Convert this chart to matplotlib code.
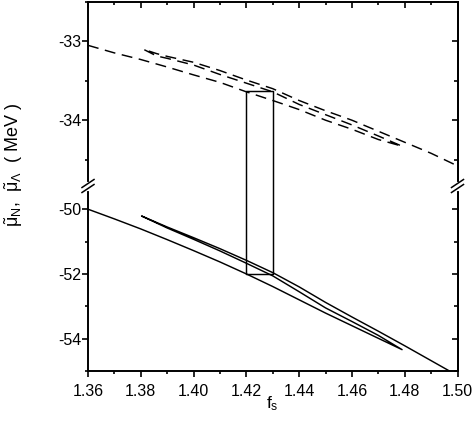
import numpy as np
import matplotlib
matplotlib.use("Agg")
import matplotlib.pyplot as plt
from matplotlib.ticker import MultipleLocator
from matplotlib.lines import Line2D

plt.rcParams['font.family'] = ['Liberation Sans', 'DejaVu Sans']
plt.rcParams['mathtext.fontset'] = 'custom'
plt.rcParams['mathtext.rm'] = 'Liberation Sans'
plt.rcParams['mathtext.it'] = 'Liberation Sans'
plt.rcParams['mathtext.bf'] = 'Liberation Sans:bold'
plt.rcParams['axes.unicode_minus'] = False

# dashed curve (upper panel), three branches of a Z-shaped curve
fs_dash_low = [1.36, 1.37, 1.38, 1.39, 1.40, 1.41, 1.42, 1.43, 1.44, 1.45, 1.46, 1.47, 1.479]
mu_dash_low = [-33.05, -33.146, -33.23, -33.325, -33.425, -33.52, -33.64, -33.75, -33.865, -34.0, -34.115, -34.245, -34.33]
fs_dash_mid = [1.479, 1.47, 1.46, 1.45, 1.44, 1.43, 1.42, 1.41, 1.40, 1.39, 1.386, 1.381]
mu_dash_mid = [-34.33, -34.20, -34.06, -33.93, -33.80, -33.64, -33.53, -33.42, -33.30, -33.215, -33.185, -33.10]
fs_dash_up = [1.381, 1.386, 1.39, 1.40, 1.41, 1.42, 1.43, 1.44, 1.45, 1.46, 1.47, 1.48, 1.49, 1.50]
mu_dash_up = [-33.10, -33.155, -33.19, -33.265, -33.37, -33.49, -33.60, -33.75, -33.88, -34.00, -34.14, -34.28, -34.42, -34.58]

# solid curve (lower panel)
fs_sol_low = [1.36, 1.37, 1.38, 1.39, 1.40, 1.41, 1.42, 1.43, 1.44, 1.45, 1.46, 1.47, 1.479]
mu_sol_low = [-50.0, -50.30, -50.61, -50.94, -51.28, -51.63, -52.0, -52.39, -52.80, -53.21, -53.60, -53.99, -54.34]
fs_sol_mid = [1.479, 1.47, 1.46, 1.45, 1.44, 1.43, 1.42, 1.41, 1.40, 1.39, 1.3803]
mu_sol_mid = [-54.34, -53.90, -53.47, -53.05, -52.55, -52.06, -51.67, -51.29, -50.93, -50.58, -50.21]
fs_sol_up = [1.3803, 1.39, 1.40, 1.41, 1.42, 1.43, 1.44, 1.45, 1.46, 1.47, 1.48, 1.49, 1.50]
mu_sol_up = [-50.21, -50.55, -50.88, -51.22, -51.58, -51.96, -52.40, -52.88, -53.33, -53.77, -54.22, -54.68, -55.14]

# rectangle (tie lines)
box_fs = [1.42, 1.43]
box_top = -33.63
box_bot = -52.0

W, H = 474, 436
fig = plt.figure(figsize=(W / 100, H / 100), dpi=100)


def rect(l, t, r, b):
    return [l / W, 1 - b / H, (r - l) / W, (b - t) / H]


ax_u = fig.add_axes(rect(88, 2, 457.5, 186))
ax_l = fig.add_axes(rect(88, 186, 457.5, 371))

lw = 1.05
dash = (0, (7.5, 4.5))
ax_u.plot(fs_dash_low + fs_dash_mid + fs_dash_up, mu_dash_low + mu_dash_mid + mu_dash_up,
          color='black', lw=lw, linestyle=dash)
ax_l.plot(fs_sol_low + fs_sol_mid + fs_sol_up, mu_sol_low + mu_sol_mid + mu_sol_up,
          color='black', lw=lw)

# box spanning both panels
bx = [box_fs[0], box_fs[0], box_fs[1], box_fs[1]]
ax_u.plot(bx, [-40, box_top, box_top, -40], color='black', lw=lw)
ax_l.plot(bx, [-45, box_bot, box_bot, -45], color='black', lw=lw)

ax_u.set_xlim(1.36, 1.50)
ax_l.set_xlim(1.36, 1.50)
ax_u.set_ylim(-34.835, -32.5)
ax_l.set_ylim(-55.0, -49.283)

for ax in (ax_u, ax_l):
    for s in ax.spines.values():
        s.set_linewidth(1.4)
    ax.xaxis.set_major_locator(MultipleLocator(0.02))
    ax.xaxis.set_minor_locator(MultipleLocator(0.01))
    ax.tick_params(which='major', length=4, width=1.2, labelsize=11.5)
    ax.tick_params(which='minor', length=2.4, width=1.2)
    ax.tick_params(axis='y', which='both', direction='out', pad=1, right=False)

ax_u.yaxis.set_major_locator(MultipleLocator(1))
ax_u.yaxis.set_minor_locator(MultipleLocator(0.5))
ax_l.yaxis.set_major_locator(MultipleLocator(2))
ax_l.yaxis.set_minor_locator(MultipleLocator(1))

ax_u.spines['bottom'].set_visible(False)
ax_l.spines['top'].set_visible(False)
ax_u.tick_params(axis='x', which='both', bottom=False, labelbottom=False,
                 top=True, direction='in')
ax_l.tick_params(axis='x', which='both', top=False, direction='out', pad=5)
ax_l.set_xticks([1.36, 1.38, 1.40, 1.42, 1.44, 1.46, 1.48, 1.50])
ax_l.set_xticklabels(['1.36', '1.38', '1.40', '1.42', '1.44', '1.46', '1.48', '1.50'])

for ax, maj, mnr in ((ax_u, 1, 0.5), (ax_l, 2, 1)):
    sec = ax.secondary_yaxis('right')
    sec.yaxis.set_major_locator(MultipleLocator(maj))
    sec.yaxis.set_minor_locator(MultipleLocator(mnr))
    sec.tick_params(which='major', direction='in', length=4.3, width=1.2, labelright=False)
    sec.tick_params(which='minor', direction='in', length=2.6, width=1.2)
    sec.spines['right'].set_linewidth(1.4)

ax_l.set_xlabel('f$_\\mathregular{s}$', fontsize=12.5, labelpad=-3)

fig.text(14 / W, 1 - 165 / H,
         r'$\tilde{\mathregular{\mu}}_\mathregular{N}$,  $\tilde{\mathregular{\mu}}_\mathregular{\Lambda}$  ( MeV )',
         rotation=90, ha='center', va='center', fontsize=13)

# axis break marks
for xb in (88, 457.5):
    fig.add_artist(Line2D([xb / W, xb / W], [1 - 184 / H, 1 - 188.5 / H],
                          transform=fig.transFigure, color='white', lw=3))
    for yb in (183.5, 188.5):
        fig.add_artist(Line2D([(xb - 6) / W, (xb + 6) / W],
                              [1 - (yb + 4) / H, 1 - (yb - 4) / H],
                              transform=fig.transFigure, color='black', lw=1.1))

fig.savefig('out.png', dpi=100)
